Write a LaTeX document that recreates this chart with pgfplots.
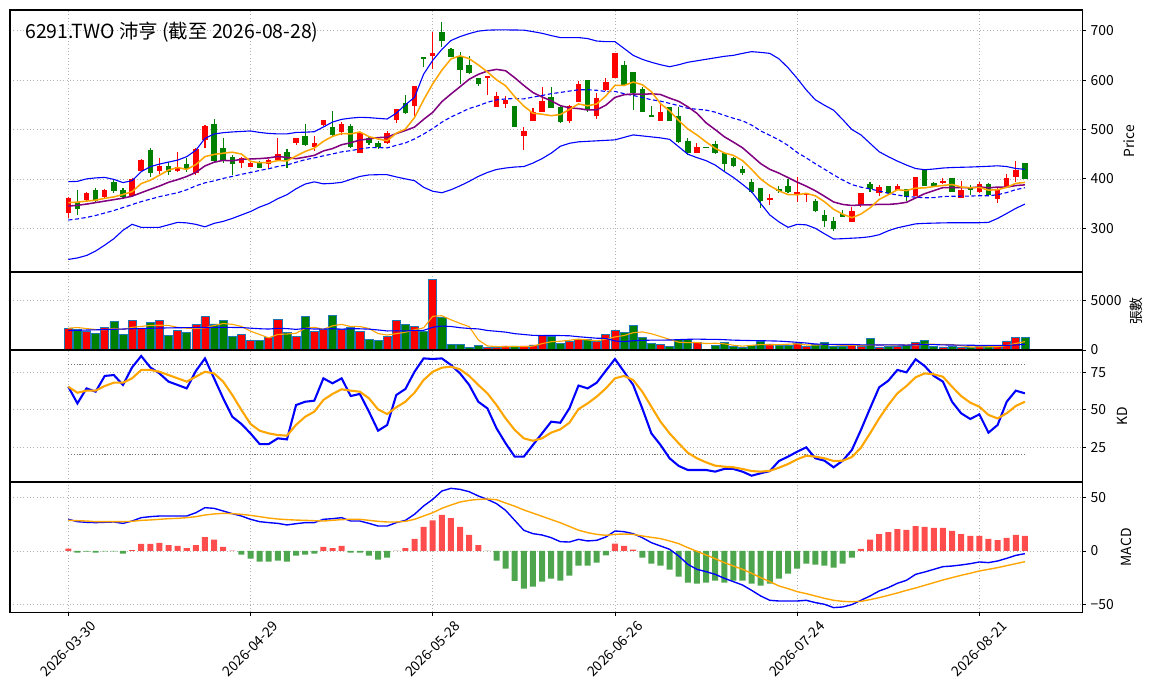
\documentclass[border=0pt]{standalone}
\usepackage{fontspec}
\setmainfont{Noto Sans CJK TC}
\usepackage{pgfplots}
\usepackage{pgfplotstable}
\pgfplotsset{compat=1.18}

\definecolor{cup}{RGB}{255,0,0}
\definecolor{cdn}{RGB}{0,128,0}
\definecolor{hup}{RGB}{255,77,77}
\definecolor{hdn}{RGB}{77,166,77}
\definecolor{mo}{RGB}{255,165,0}
\definecolor{mp}{RGB}{128,0,128}
\definecolor{mb}{RGB}{0,0,255}
\definecolor{vedge}{RGB}{31,119,180}

\pgfplotstableread{
i O H L C V
0 330.2 362.6 320.0 360.6 2181
2 357.2 374.1 353.8 370.7 1913
4 362.6 379.1 361.9 377.5 2282
7 366.0 401.0 364.0 399.0 2953
8 416.0 439.5 414.6 438.2 2148
10 416.0 441.6 409.2 426.1 2953
12 416.0 455.0 414.6 424.7 1946
14 411.2 461.8 407.8 459.8 2584
15 478.7 508.4 461.8 507.0 3356
19 432.8 444.9 421.3 441.6 1577
20 424.7 434.8 424.0 432.8 940
22 430.1 439.5 422.7 438.2 1275
23 438.2 482.0 436.8 450.3 3088
25 472.0 483.4 468.6 482.0 1342
27 465.2 486.8 457.0 472.0 1846
28 509.0 520.0 508.0 519.2 2081
30 495.5 515.8 488.8 511.0 2081
32 453.0 495.5 453.0 492.2 1879
35 472.0 496.9 470.6 492.2 1342
36 519.2 542.1 513.8 540.8 2953
38 547.5 588.0 527.3 588.0 2349
40 649.4 698.0 621.7 654.1 7115
46 603.5 608.2 569.8 608.2 235
47 546.2 576.5 546.2 567.7 235
48 550.9 567.7 542.8 559.7 403
50 487.4 505.7 458.4 496.9 403
51 517.8 544.1 517.8 536.0 503
52 536.0 586.6 536.0 558.3 1477
55 517.8 549.5 512.4 548.2 873
56 556.3 598.8 556.3 592.0 1090
58 527.3 574.5 520.5 563.1 873
59 579.9 603.5 578.5 596.8 1577
60 604.9 655.5 604.9 655.5 1946
65 517.8 552.9 517.8 534.7 537
69 453.0 473.3 451.7 465.2 738
77 357.2 369.3 347.1 360.6 604
80 370.7 403.1 353.8 372.7 638
81 369.3 372.0 353.8 370.7 336
86 313.4 343.7 313.4 335.0 436
87 346.3 372.0 343.0 372.0 336
89 372.0 387.6 365.3 382.9 302
91 377.5 389.5 377.5 385.6 336
93 366.0 403.1 366.0 403.1 772
96 391.0 401.1 389.5 396.4 302
98 360.6 396.4 360.6 377.5 302
100 374.1 394.3 372.0 389.5 369
102 359.3 384.3 352.0 378.8 369
103 382.9 409.9 380.8 401.1 906
104 404.5 436.8 394.3 418.1 1275
}\uptab

\pgfplotstableread{
i O H L C V
1 353.8 377.5 326.9 338.3 2081
3 377.5 380.8 353.8 355.9 1678
5 394.3 397.0 372.0 375.4 2853
6 377.5 380.8 360.6 362.6 1577
9 458.4 463.2 404.5 411.2 2785
11 426.1 434.8 407.8 414.6 1477
13 430.1 441.6 414.6 419.4 1745
16 511.0 520.5 434.8 436.8 2618
17 463.2 483.4 432.8 436.8 2953
18 444.9 447.6 407.8 429.4 1342
21 434.8 436.8 421.3 422.7 940
24 454.4 459.8 421.3 438.2 1745
26 486.8 511.0 466.5 468.6 3356
29 504.3 537.4 486.8 488.8 3490
31 507.0 510.4 461.8 463.8 2249
33 482.0 486.8 468.6 472.0 1074
34 472.0 477.3 459.8 465.2 940
37 553.0 569.8 531.3 534.0 2584
39 646.0 646.0 625.8 644.7 1879
41 696.6 718.2 666.3 679.1 3255
42 662.2 664.2 647.4 647.4 537
43 648.7 657.5 592.0 620.4 537
44 630.5 649.4 612.3 615.0 268
45 603.5 604.2 588.7 591.4 436
49 547.5 547.5 504.3 504.3 403
53 565.1 585.3 542.8 544.1 1342
54 544.8 547.5 512.4 515.8 671
57 600.1 600.1 536.0 539.4 1074
61 630.5 639.3 588.0 590.0 1779
62 617.0 617.0 539.4 574.5 2483
63 581.9 586.6 536.0 536.0 1275
64 529.3 547.5 526.0 526.0 671
66 544.8 546.2 517.8 517.8 336
67 527.3 544.8 471.9 475.3 1074
68 476.7 483.4 448.3 451.7 1074
70 464.5 465.2 463.8 463.8 30
71 470.6 477.3 450.3 453.0 470
72 453.0 455.0 414.6 429.4 772
73 441.6 443.6 424.7 426.7 369
74 419.4 426.1 407.8 412.6 268
75 393.0 399.0 372.0 374.1 436
76 380.8 380.8 340.4 355.9 906
78 378.8 385.6 370.7 376.1 470
79 385.6 399.0 372.0 374.1 470
82 355.9 358.6 333.6 335.6 537
83 326.9 336.9 303.3 315.5 772
84 314.8 323.5 295.1 297.9 336
85 328.9 336.9 322.1 323.5 336
88 389.5 394.3 374.1 378.8 1141
90 385.6 385.6 369.3 370.7 336
92 378.8 378.8 355.9 364.0 470
94 419.4 419.4 385.6 385.6 940
95 391.0 394.3 384.3 384.3 336
97 401.1 401.1 374.1 374.1 336
99 384.3 387.6 367.3 377.5 235
101 389.5 392.3 366.0 367.3 369
105 431.4 432.5 399.0 399.0 1275
}\dntab

\pgfplotstableread{
i ma5 ma10 mid up lo
0 352 345 316.7 394.3 237
1 353 346.5 319 395 240
2 355 349 322 400 245
3 357 352 326 402 254
4 360.6 355 331 403 266
5 363.6 358 336 399 279
6 368.4 361 342 392.5 296
7 374.1 365 348 396.4 308
8 390.5 372 354 414.6 302
9 397.3 378.9 359 424.7 302
10 407.4 385.5 364 430 302
11 417.8 393.1 368 434 307
12 423.0 398.5 372 438 312
13 419.2 404.9 378 445 311
14 428.9 413.1 386 458 308
15 445.1 426.3 392 482 303
16 449.5 433.7 396 490.8 310
17 452.0 437.5 401 493.5 314
18 454.0 436.6 405 495 320
19 450.3 439.6 409.3 496 327
20 435.5 440.3 412.9 497 334
21 432.7 441.1 417.1 494 343
22 432.9 442.5 420.5 492 350
23 437.1 445.5 425.2 491 360
24 436.4 443.4 428.2 491 368
25 446.3 440.9 433.6 494 380
26 455.5 444.1 438.9 494.5 389.6
27 462.2 447.6 442.5 495.5 394
28 476.0 456.6 446.6 505 390
29 486.1 461.3 450.5 515 391
30 491.9 469.1 454.7 520.5 393
31 491.0 473.2 457.2 523 399
32 495.0 478.6 460.5 524.6 405
33 485.6 480.8 463.2 524 408
34 480.8 483.5 463.4 522.5 408.5
35 477.1 484.5 462.7 521.2 408.5
36 492.5 491.7 467.9 533 404
37 500.8 497.9 472.8 550 400
38 524.0 504.8 480.7 565 396.4
39 559.9 520.4 490.8 612 383
40 592.3 534.7 501.9 640 375
41 620.0 556.2 514.7 662 372
42 642.7 571.8 525.2 680 378
43 649.1 586.6 533.7 688 386
44 643.2 601.6 542.5 694 395
45 630.7 611.5 548.0 699 405
46 616.5 618.2 555.0 701 413
47 600.5 621.6 559.8 701.5 419
48 588.4 618.8 561.8 701.5 422
49 566.3 604.7 562.6 701.3 424
50 547.4 589.0 561.9 701 425
51 532.9 574.7 565.5 698 432
52 531.0 565.8 568.8 694.6 441
53 527.9 558.2 572.4 690 452
54 530.2 548.2 574.9 686 466
55 540.5 543.9 577.7 686 472
56 551.7 542.3 580.3 686 475
57 547.9 539.5 580.5 684 476
58 551.7 539.8 579.3 679 477
59 567.9 549.1 576.9 677.7 478
60 589.4 564.9 577.0 677.7 479
61 589.0 570.3 572.5 664 484
62 596.0 571.9 568.9 650 489
63 590.6 571.1 564.6 642 487
64 576.4 572.2 560.2 636 485
65 552.2 570.8 557.4 631 483
66 537.8 563.4 552.8 627 480
67 518.0 557.0 548.2 631 465
68 501.1 545.8 542.8 636 450
69 488.9 532.7 540.9 639 443
70 474.8 513.5 539.2 642 437
71 461.8 499.8 535.1 645 428
72 452.6 485.3 528.6 648 415
73 447.6 474.4 522.7 650 403
74 437.1 463.0 517.6 654 389
75 419.2 447.0 508.9 657.5 374
76 399.7 430.8 497.1 656 350
77 386.0 419.3 488.1 654 327
78 375.9 411.7 478.8 643 313
79 368.2 402.6 467.7 625 302
80 367.9 393.5 453.5 603.5 308
81 370.8 385.3 442.5 580 307
82 365.8 375.9 430.6 560 300
83 353.7 364.8 419.6 549 289
84 338.5 353.3 408.2 539 278.3
85 328.6 348.3 397.6 520 279
86 321.5 346.2 388.5 500 280
87 328.8 347.3 383.3 489 281
88 341.4 347.6 379.7 472 283
89 358.4 348.5 375.5 455 287
90 367.9 348.3 370.9 445 295
91 378.0 349.8 367.5 436 301
92 376.4 352.6 364.3 428 305
93 381.3 361.4 363.1 421 309
94 381.8 370.1 361.7 418.5 310
95 384.5 376.2 362.2 420 310.5
96 386.7 382.3 364.3 422 311
97 388.7 382.6 364.9 423 311.3
98 383.6 382.4 365.0 423.5 311.3
99 382.0 381.9 365.2 424 311.3
100 383.0 383.8 366.0 424.7 311.3
101 377.2 381.9 365.8 425.5 312
102 378.1 383.4 368.0 426.5 320
103 382.8 383.2 372.3 425 330
104 391.0 386.5 378.3 421 340.4
105 392.9 387.9 382.1 419.4 349
}\linetab

\pgfplotstableread{
i v5 v20
0 2181 1950
1 2250 1970
2 2150 2000
3 2050 2020
4 2027 2050
5 2161 2080
6 2061 2100
7 2269 2130
8 2363 2150
9 2463 2180
10 2483 2200
11 2463 2215
12 2262 2230
13 2181 2240
14 2141 2250
15 2222 2260
16 2450 2270
17 2651 2270
18 2571 2260
19 2369 2250
20 1886 2188
21 1550 2131
22 1215 2099
23 1564 2170
24 1598 2143
25 1678 2067
26 2161 2156
27 2275 2101
28 2074 2097
29 2423 2133
30 2571 2089
31 2349 2128
32 2356 2124
33 2155 2091
34 1645 2009
35 1497 1908
36 1638 1925
37 1779 1906
38 2034 1957
39 2221 1972
40 3376 2280
41 3436 2396
42 3027 2359
43 2665 2232
44 2342 2158
45 1007 2113
46 403 1957
47 342 1876
48 315 1792
49 342 1638
50 336 1554
51 389 1467
52 638 1446
53 826 1460
54 879 1446
55 973 1423
56 1091 1330
57 1010 1254
58 916 1180
59 1097 1165
60 1312 907
61 1450 833
62 1732 930
63 1812 967
64 1631 987
65 1349 993
66 1060 998
67 779 1040
68 738 1073
69 752 1090
70 650 1071
71 677 1070
72 617 1034
73 476 986
74 382 965
75 463 944
76 550 934
77 517 911
78 537 891
79 577 835
80 618 770
81 504 698
82 490 601
83 551 575
84 524 559
85 463 549
86 483 554
87 443 517
88 517 520
89 510 498
90 510 514
91 490 507
92 517 492
93 443 512
94 571 546
95 571 541
96 564 510
97 537 497
98 443 489
99 302 477
100 309 463
101 322 465
102 329 457
103 450 463
104 658 510
105 839 557
}\vmatab

\pgfplotstableread{
i K D
0 65.4 65.4
1 54.3 61.4
2 64.3 62.8
3 62.1 62.8
4 72.6 65.9
5 73.2 68.1
6 66.6 68.1
7 78.3 71.0
8 85.9 76.6
9 78.3 76.6
10 74.3 75.4
11 68.8 73.2
12 66.6 71.0
13 64.3 68.8
14 75.9 72.1
15 84.3 75.4
16 71.0 74.3
17 57.7 68.8
18 45.4 59.9
19 40.6 49.9
20 34.3 40.6
21 27.2 36.1
22 27.2 34.3
23 31.0 33.2
24 30.3 32.8
25 53.2 40.0
26 55.4 45.4
27 56.1 48.8
28 71.0 56.6
29 67.7 60.6
30 71.0 63.7
31 59.2 62.8
32 60.6 62.1
33 48.8 57.7
34 36.1 50.3
35 39.9 47.2
36 59.9 51.7
37 63.9 55.4
38 75.4 61.4
39 84.3 69.9
40 83.9 75.4
41 84.3 78.1
42 79.9 78.8
43 74.3 77.0
44 66.6 72.6
45 55.4 66.6
46 51.0 61.0
47 37.7 53.2
48 27.7 44.3
49 18.8 36.6
50 18.8 31.0
51 26.6 29.4
52 34.3 31.0
53 42.1 34.8
54 41.4 37.0
55 51.0 41.4
56 66.2 50.5
57 64.3 54.3
58 68.1 58.8
59 76.1 64.3
60 83.9 71.0
61 75.4 72.6
62 66.6 69.9
63 51.0 62.1
64 34.3 52.1
65 26.6 42.1
66 17.7 34.3
67 12.6 27.7
68 9.9 21.4
69 9.9 17.7
70 9.9 15.0
71 8.8 12.8
72 10.6 12.1
73 10.6 11.7
74 8.8 10.6
75 6.1 9.2
76 7.7 8.8
77 9.2 9.4
78 15.9 11.4
79 18.8 13.9
80 22.1 17.0
81 25.0 19.4
82 17.7 18.8
83 16.1 17.7
84 11.7 15.9
85 16.1 16.1
86 23.2 18.5
87 36.6 24.8
88 51.0 34.3
89 65.0 44.3
90 69.4 53.2
91 76.6 61.0
92 75.0 65.9
93 83.7 71.7
94 79.2 74.3
95 72.6 73.7
96 68.8 72.1
97 55.4 65.4
98 47.7 59.2
99 43.9 54.8
100 47.0 52.1
101 34.8 46.6
102 39.9 44.3
103 55.4 47.7
104 62.8 52.6
105 61.0 55.4
}\kdtab

\pgfplotstableread{
i dif dea hist
0 29.7 28.75 2.2
1 27.5 28.4 -1.6
2 26.9 28.1 -0.6
3 26.6 27.5 -1.6
4 26.9 27.5 -0.3
5 27.2 27.5 -0.3
6 25.9 27.5 -2.5
7 28.1 27.8 0.9
8 31.25 28.75 6.6
9 32.2 29.1 6.6
10 32.8 29.7 7.5
11 32.8 30.3 5.6
12 32.8 30.6 4.7
13 32.8 31.25 2.8
14 35.9 32.2 5.6
15 40.6 33.75 13.1
16 40.0 34.7 10.6
17 37.5 35.3 3.75
18 35.0 35.0 0.3
19 32.8 34.4 -3.4
20 29.7 33.4 -7.2
21 27.5 32.2 -10
22 26.6 30.9 -10
23 25.9 30.0 -9.1
24 24.4 29.4 -10
25 25.6 29.0 -4.4
26 26.6 28.75 -3.4
27 26.6 28.4 -2.5
28 29.7 28.1 3.75
29 30.3 28.75 2.8
30 31.25 29.4 4.7
31 28.1 29.7 -1.6
32 28.1 29.7 -1.6
33 25.9 28.75 -4.4
34 23.4 27.8 -8.1
35 23.4 27.2 -6.25
36 26.6 27.2 0
37 28.75 27.8 2.8
38 34.4 29.7 11.25
39 42.2 32.8 22.5
40 48.4 35.9 28.75
41 56.25 40.0 33.75
42 58.75 43.1 30.9
43 57.8 45.9 22.5
44 55.6 47.5 15
45 51.6 48.4 5.6
46 48.4 48.75 0
47 44.4 48.1 -9.1
48 38.1 45.0 -16.6
49 28.75 42.0 -28.1
50 19.4 38.5 -35.3
51 16.25 35.5 -33.4
52 15.0 32.5 -28.75
53 12.5 29.5 -25.9
54 8.75 26.5 -27.8
55 8.4 23.0 -23.1
56 10.9 19.5 -13.75
57 9.4 17.2 -13.75
58 10.0 15.6 -10.9
59 13.1 14.7 -4
60 18.75 15.6 6.9
61 18.1 15.9 4.7
62 16.25 15.6 1.25
63 12.5 14.1 -6.25
64 7.8 12.8 -11.9
65 4.7 11.6 -13.75
66 1.6 9.4 -17.5
67 -4.7 6.9 -24.1
68 -12.5 3.1 -29.7
69 -17.2 -0.3 -30.6
70 -19.4 -3.75 -29.7
71 -21.9 -7.2 -27.8
72 -25.6 -10.9 -29.7
73 -28.75 -14.1 -27.8
74 -31.9 -17.2 -27.8
75 -36.9 -20.9 -30.6
76 -42.2 -25.0 -32.5
77 -46.25 -28.75 -30.6
78 -46.9 -32.8 -25.9
79 -46.9 -35.3 -21.25
80 -46.9 -38.1 -16.6
81 -46.25 -40.0 -11.9
82 -48.4 -42.2 -12.8
83 -50.0 -44.4 -13.75
84 -53.1 -46.25 -15.6
85 -52.5 -47.2 -11.9
86 -50.3 -47.6 -6.25
87 -46.25 -47.2 1.9
88 -42.2 -45.6 10.6
89 -37.5 -43.75 15.9
90 -34.4 -41.6 17.8
91 -30.3 -39.4 20.6
92 -27.5 -36.9 19.7
93 -21.9 -34.7 23.4
94 -19.7 -32.2 22.5
95 -17.2 -29.7 21.6
96 -14.7 -27.2 21.6
97 -14.1 -25.0 18.75
98 -13.1 -22.8 15.9
99 -11.9 -20.9 14.1
100 -10.3 -18.75 14.1
101 -10.9 -17.2 11.25
102 -9.4 -15.6 10.3
103 -6.9 -13.75 12.2
104 -4.1 -11.9 15
105 -2.5 -10.0 14.1
}\macdtab

\pgfplotsset{
  panel/.style={
    scale only axis,
    width=772.06pt,
    xmin=-6.4, xmax=111.3,
    xtick={0,20,40,60,80,100},
    grid=major,
    major grid style={gray!60, line width=0.5pt, dash pattern=on 0.8pt off 1.6pt},
    axis line style={line width=0.8pt},
    ytick pos=right, yticklabel pos=right,
    tick align=outside,
    major tick length=2.5pt,
    tick style={black, line width=0.6pt},
    tick label style={font=\fontsize{10}{12}\selectfont},
    /pgf/number format/assume math mode=true,
    /pgf/number format/1000 sep={},
  },
  upper/.style={panel, xticklabel=\empty, xtick style={draw=none}},
}

\newcommand\candles[2]{%
  \addplot[draw=none, mark=none, forget plot,
    error bars/.cd, y dir=both, y explicit, error mark=none,
    error bar style={draw=#2, line width=0.8pt, solid}]
    table[x=i, y expr={(\thisrow{H}+\thisrow{L})/2}, y error expr={(\thisrow{H}-\thisrow{L})/2}]{#1};
  \addplot[draw=none, mark=none, forget plot,
    error bars/.cd, y dir=both, y explicit, error mark=none,
    error bar style={draw=#2, line width=3.9pt, solid}]
    table[x=i, y expr={(\thisrow{O}+\thisrow{C})/2}, y error expr={max(abs(\thisrow{C}-\thisrow{O})/2,0.8)}]{#1};
}

\begin{document}
\begin{tikzpicture}
\useasboundingbox (0,0) rectangle (831.6pt,502.56pt);

% ---------------- price
\begin{axis}[upper, at={(7.2pt,306.72pt)}, anchor=south west, height=188.64pt,
  ymin=211.6, ymax=741.8, ytick={300,400,500,600,700}]
\candles{\uptab}{cup}
\candles{\dntab}{cdn}
\addplot[mb, line width=0.8pt] table[x=i, y=up]{\linetab};
\addplot[mb, line width=0.8pt] table[x=i, y=lo]{\linetab};
\addplot[mb, line width=0.8pt, dash pattern=on 3pt off 1.8pt] table[x=i, y=mid]{\linetab};
\addplot[mp, line width=1.1pt] table[x=i, y=ma10]{\linetab};
\addplot[mo, line width=1.1pt] table[x=i, y=ma5]{\linetab};
\end{axis}

% ---------------- volume
\begin{axis}[upper, at={(7.2pt,250.56pt)}, anchor=south west, height=56.16pt,
  ymin=0, ymax=7817, ytick={0,5000}]
\addplot[ybar, bar width=0.88, bar shift=0pt, fill=cup, draw=vedge, line width=0.5pt] table[x=i, y=V]{\uptab};
\addplot[ybar, bar width=0.88, bar shift=0pt, fill=cdn, draw=vedge, line width=0.5pt] table[x=i, y=V]{\dntab};
\addplot[mo, line width=0.8pt] table[x=i, y=v5]{\vmatab};
\addplot[mb, line width=0.8pt] table[x=i, y=v20]{\vmatab};
\end{axis}

% ---------------- KD
\begin{axis}[upper, at={(7.2pt,155.52pt)}, anchor=south west, height=95.04pt,
  ymin=1.9, ymax=89.9, ytick={25,50,75}]
\addplot[gray!90!black, line width=0.6pt, dash pattern=on 0.8pt off 1.2pt] coordinates {(0,80) (105,80)};
\addplot[gray!90!black, line width=0.6pt, dash pattern=on 0.8pt off 1.2pt] coordinates {(0,20) (105,20)};
\addplot[mb, line width=1.5pt] table[x=i, y=K]{\kdtab};
\addplot[mo, line width=1.5pt] table[x=i, y=D]{\kdtab};
\end{axis}

% ---------------- MACD
\begin{axis}[panel, at={(7.2pt,61.7pt)}, anchor=south west, height=93.82pt,
  ymin=-57.5, ymax=64.7, ytick={-50,0,50}, yticklabels={−50,0,50},
  xtick pos=bottom,
  xticklabels={2026-03-30,2026-04-29,2026-05-28,2026-06-26,2026-07-24,2026-08-21},
  xticklabel style={rotate=45, anchor=center, xshift=-17pt, yshift=-17pt}]
\addplot[ybar, bar width=0.66, bar shift=0pt, fill=hup, draw=none, restrict y to domain=0:200] table[x=i, y=hist]{\macdtab};
\addplot[ybar, bar width=0.66, bar shift=0pt, fill=hdn, draw=none, restrict y to domain=-200:0] table[x=i, y=hist]{\macdtab};
\addplot[mb, line width=1pt] table[x=i, y=dif]{\macdtab};
\addplot[mo, line width=1pt] table[x=i, y=dea]{\macdtab};
\end{axis}

\node[anchor=base west, inner sep=0pt, font=\fontsize{14}{16}\selectfont] at (18pt,475pt) {6291.TWO 沛亨 (截至 2026-08-28)};
\node[rotate=90, inner sep=0pt, font=\fontsize{10}{12}\selectfont] at (812.9pt,401.0pt) {Price};
\node[rotate=90, inner sep=0pt, font=\fontsize{10}{12}\selectfont] at (818.3pt,278.6pt) {張數};
\node[rotate=90, inner sep=0pt, font=\fontsize{10}{12}\selectfont] at (808.2pt,203.0pt) {KD};
\node[rotate=90, inner sep=0pt, font=\fontsize{10}{12}\selectfont] at (811.2pt,108.4pt) {MACD};
\end{tikzpicture}
\end{document}
